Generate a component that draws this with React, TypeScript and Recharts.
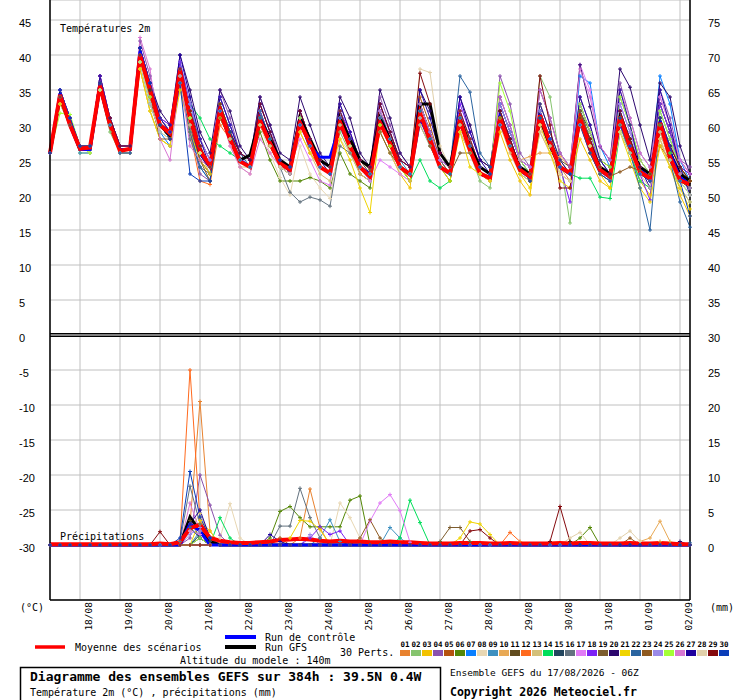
import React from 'react';
import { LineChart, Line, XAxis, YAxis, CartesianGrid, ReferenceLine } from 'recharts';

// ---------- colours of the 30 perturbations ----------
const COLORS = [
  '#E8822F', '#86C46E', '#F2C200', '#8B52AE', '#B5520F', '#548707', '#0A80FF', '#E8D7B3', '#3E90C0', '#E8A955',
  '#614C1E', '#FF6A1E', '#D4C07A', '#00DE5A', '#22465E', '#63727F', '#E17BF6', '#7C21F5', '#7D5D2E', '#2C066E',
  '#F0D400', '#2A64A0', '#8F5A20', '#9B8AE8', '#A4FF37', '#D877D3', '#1F009E', '#E1D0AA', '#84090D', '#0A3DB8',
];
const MEMBER_LABELS = ['01','02','03','04','05','06','07','08','09','10','11','12','13','14','15','16','17','18','19','20','21','22','23','24','25','26','27','28','29','30'];

// ---------- axis ticks / labels ----------
const DAY_TICKS = [3, 7, 11, 15, 19, 23, 27, 31, 35, 39, 43, 47, 51, 55, 59, 63];
const DAY_LABELS = ['18/08','19/08','20/08','21/08','22/08','23/08','24/08','25/08','26/08','27/08','28/08','29/08','30/08','31/08','01/09','02/09'];
const TEMP_TICKS = [45, 40, 35, 30, 25, 20, 15, 10, 5, 0, -5, -10, -15, -20, -25, -30];
const MM_TICKS = [75, 70, 65, 60, 55, 50, 45, 40, 35, 30, 25, 20, 15, 10, 5, 0];

// ---------- temperatures 2m (°C), every 6h from 17/08 06Z ----------
const T01 = [26, 34,30,27,27, 35,30,26,26, 40,35,30,29, 37,30,25,23, 31,28,25,24, 30,27,24,23, 30,27,24,23, 31,28,24,23, 30,27,24,23, 32,28,24,23, 31,27,23,22, 30,27,24,23, 32,28,24,22, 31,27,23,22, 32,28,24,22, 33,29,25,23];
const T02 = [26, 33,30,26,26, 35,29,26,26, 39,33,29,28, 36,30,26,24, 33,29,25,24, 31,27,24,23, 30,28,24,23, 29,26,23,22, 30,27,24,22, 32,28,24,23, 30,26,22,21, 32,28,24,22, 37,34,25,16, 31,26,23,22, 30,26,22,21, 29,25,21,19];
const T03 = [26, 34,31,27,27, 36,30,27,27, 38,32,28,27, 38,32,27,24, 33,28,25,24, 32,28,25,24, 31,28,25,24, 30,27,24,23, 29,26,23,21, 33,29,25,23, 30,26,23,22, 29,25,22,20, 30,27,23,22, 28,25,22,21, 30,26,22,20, 28,24,20,17];
const T04 = [26, 35,31,27,27, 37,31,27,27, 42,37,31,30, 39,30,23,22, 35,31,26,25, 34,30,25,24, 32,28,24,23, 33,29,25,24, 34,30,26,24, 33,29,25,24, 32,28,24,23, 37,33,26,24, 32,28,24,23, 34,30,25,24, 36,31,26,24, 35,31,25,24];
const T05 = [26, 34,30,27,27, 36,30,26,26, 41,35,30,29, 38,31,27,24, 32,28,25,24, 31,27,24,23, 32,28,24,23, 30,27,23,22, 31,28,24,23, 34,30,25,23, 29,26,23,22, 31,27,24,22, 32,28,24,23, 30,26,23,22, 31,27,23,22, 27,25,23,22];
const T06 = [26, 34,30,27,27, 35,30,26,26, 40,34,30,28, 37,31,26,24, 32,28,25,24, 29,25,22,22, 22,22.5,22,21, 26,23,22,21, 30,27,24,22, 31,28,24,22, 30,27,23,22, 31,27,23,22, 31,27,24,23, 32,28,24,23, 31,27,23,22, 30,26,22,21];
const T07 = [26, 35,31,27,27, 36,31,27,27, 39,33,29,27, 36,29,24,22, 33,29,25,24, 32,28,24,23, 31,27,24,23, 32,28,24,22, 31,28,24,23, 32,28,24,23, 30,27,23,22, 32,28,24,23, 31,28,24,23, 37,36,27,24, 32,28,24,23, 37,33,25,22];
const T08 = [26, 34,30,27,26, 35,30,26,26, 39,34,30,28, 36,30,26,24, 32,27,24,23, 30,26,22.5,20, 27,23,21,19.5, 28,26,24,23, 30,27,24,23, 31,28,24,23, 29,26,23,22, 30,27,23,22, 29,26,23,22, 30,27,24,22, 29,26,23,21, 28,25,22,20];
const T09 = [26, 34,30,26,26, 36,30,26,26, 40,36,31,29, 39,33,27,24, 34,30,26,25, 32,28,25,24, 30,27,24,23, 31,27,24,23, 31,28,25,23, 30,27,24,23, 31,28,24,23, 31,27,24,23, 31,28,24,23, 32,28,24,23, 33,29,25,23, 32,28,24,22];
const T10 = [26, 34,30,27,27, 35,30,26,26, 39,34,30,29, 37,31,26,23, 31,28,25,24, 30,27,24,23, 30,27,24,23, 31,27,24,23, 30,27,24,23, 31,28,24,23, 30,27,24,23, 31,27,25,25.5, 26,26,25.5,24, 30,27,24,23, 30,27,24,23, 31,27,24,22];
const T11 = [26, 34,30,27,27, 36,31,27,27, 41,36,31,29, 38,32,28,25, 33,29,26,25, 31,28,25,24, 31,28,25,24, 31,28,25,23, 32,29,25,24, 33,29,25,24, 31,28,24,23, 32,28,24,23, 31,28,25,24, 32,29,25,24, 31,28,24,23, 30,27,24,23];
const T12 = [26, 34,30,27,27, 35,30,26,26, 40,35,30,28, 36,29,22,21.5, 30,28,25,24, 31,27,24,23, 31,26,24,23, 30,27,24,23, 31,28,24,23, 32,28,24,23, 30,27,23,22, 32,28,24,22, 30,27,24,23, 31,28,24,23, 31,27,24,23, 30,26,23,22];
const T13 = [26, 33,30,27,26, 35,30,26,26, 38,32,28,27, 36,31,26,24, 31,28,24,24, 30,27,24,23, 29,26,23,22, 30,26,23,22, 29,26,23,22, 30,27,24,23, 29,26,23,22, 30,26,23,22, 29,26,23,22, 30,27,23,22, 29,26,22,21, 28,24,21,19];
const T14 = [26, 34,30,27,27, 35,30,26,26, 39,35,31,29, 37,33,31,28, 27,26,25,24, 31,27,24,23, 30,27,24,23, 30,27,24,23, 30,27,24,22, 25,22,21,22, 30,27,24,23, 31,27,24,23, 31,27,24,23, 22.4,22.4,19.7,19.5, 29,26,22,21, 30,26,22,20];
const T15 = [26, 35,31,27,27, 36,31,27,27, 40,35,30,28, 37,30,25,23, 33,29,25,24, 32,28,24,23, 31,27,24,23, 31,28,24,23, 32,28,24,23, 33,29,25,24, 31,27,24,23, 33,29,25,23, 32,28,24,23, 33,29,25,23, 32,28,24,23, 33,29,24,22];
const T16 = [26, 34,30,27,27, 36,30,26,26, 40,35,30,28, 38,28,24,23, 32,28,25,24, 31,27,24,20.4, 19,19.7,19.3,18.4, 27,26,24,23, 31,28,24,23, 32,28,25,23, 31,27,24,23, 32,28,24,23, 30,27,24,23, 33,29,25,23, 34,30,25,23, 33,29,24,21];
const T17 = [26, 35,31,27,27, 36,31,27,27, 41,36,31,29, 38,32,27,24, 33,29,26,25, 32,28,25,24, 28,25,22,21.4, 31,28,24,22, 25,24,23,22, 32,28,24,23, 31,28,24,23, 33,29,25,23, 33,29,25,23, 38.6,35,27,25, 33,29,25,23, 34,30,25,23];
const T18 = [26, 35,31,27,27, 37,31,27,27, 41,36,31,30, 39,33,28,25, 34,30,26,25, 33,29,25,24, 32,28,25,24, 32,29,25,24, 33,29,25,24, 32,29,25,24, 33,29,25,24, 33,29,25,24, 32,28,24,19, 33,29,24,23, 32,27,23,19.3, 33,29,24,23];
const T19 = [26, 34,30,27,27, 36,30,26,26, 40,35,31,29, 38,32,27,24, 32,29,26,25, 31,28,25,24, 30,27,24,23, 30,27,25,23.6, 29,26,24,23, 31,27,24,23, 26,26,25,24, 31,28,24,22, 30,27,24,23, 31,27,24,23, 31,28,24,23, 30,27,24,22];
const T20 = [26, 35,31,27,27, 37,31,27,27, 41,36,32,30, 40,35,29,26, 35,32,27,25, 34,30,26,25, 34,30,26,24, 34,31,26,24, 35,31,26,24, 35,32,26,24, 34,30,25,24, 34,30,25,24, 35,31,26,24, 38.6,32.6,26.9,25, 38,35.4,30,25, 36,34,27,23];
const T21 = [26, 33,31,27,27, 35,30,26,26, 38,32,28,27, 35,29,25,23, 31,28,25,24, 30,27,24,23, 29,26,24,23, 28,25,21,17.5, 30,27,24,22, 31,28,24,22, 29,24,23,22, 31,27,23,21, 30,26,22,21, 31,27,23,21, 29,25,21,19, 27,24,21,18];
const T22 = [26, 34,30,27,27, 36,31,27,27, 40,35,30,28, 36,29,24,22, 33,29,26,24, 32,28,25,24, 31,28,25,24, 32,28,24,23, 32,28,24,23, 33,29,25,24, 37,34.7,26,24, 33,29,25,23, 32,28,24,23, 32,28,24,22, 30,26,21,15, 31,25,19,15.4];
const T23 = [26, 34,30,27,27, 35,30,26,26, 39,34,28,28, 36,30,25,22, 31,28,25,24, 30,27,24,23, 30,27,24,23, 30,27,24,23, 31,28,24,23, 32,28,24,23, 30,27,24,23, 31,28,24,23, 31,27,24,23, 32,28,24,22.7, 23.3,24,23.5,22, 29,25,22,21];
const T24 = [26, 35,31,27,27, 36,31,27,27, 40,36,31,29, 38,33,28,25, 34,30,26,25, 33,29,25,24, 31,28,25,24, 32,28,25,24, 32,29,25,24, 31,28,25,24, 32,28,24,23, 33,29,25,24, 32,28,24,23, 33,29,25,23, 33,29,24,22, 32,28,23,21];
const T25 = [26, 31.7,31.5,27,26, 35,30,26,26, 39,34,30,28, 37,31,26,24, 33,29,25,24, 31,28,24,23, 31,27,24,23, 31,27,24,23, 31,28,24,23, 32,28,24,23, 31,28,24,23, 36,32,25,23, 33,29,25,23, 33,29,25,24, 34,30,25,23, 32,28,24,22];
const T26 = [26, 35,31,27,27, 37,31,27,27, 42.5,38,28,25, 37,27,25,24, 32,27,24,23, 28,26,24,23, 30,27,24,23, 31,28,25,24, 32,29,25,24, 33,29,25,24, 32,28,24,23, 34,30,25,24, 35,31,26,24, 38,34,27,25, 35,31,26,24, 34,30,25,23];
const T27 = [26, 35,31,27,27, 37,31,27,27, 41,36,31,29, 40,34,28,24, 34,30,26,25, 33,29,25,23, 32,28,25,23, 33,29,25,24, 33,29,25,24, 35,31,26,24, 34,29,25,23, 32,28,24,23, 33,29,25,23, 34,30,25,23, 35,30,24,21, 35,30,24,20];
const T28 = [26, 34,30,27,27, 35,30,26,26, 39,33,29,28, 36,30,26,24, 32,28,25,24, 30,27,24,23, 30,27,24,23, 30,27,24,23, 31,28,24,23, 38,37.5,27,24, 30,27,24,23, 30,27,24,23, 30,27,23,22, 30,27,24,22, 29,26,23,21, 29,25,22,20];
const T29 = [26, 34,30,27,27, 36,31,27,27, 40,35,30,28, 38,32,27,24, 33,29,26,25, 33,29,25,24, 32,28,25,24, 32,28,25,24, 33,29,25,24, 37.4,33,26,24, 32,28,24,23, 32,28,24,23, 37,30,21,21, 31,28,24,23, 32,28,24,23, 31,27,24,22];
const T30 = [26, 35,31,27,27, 36,30,26,26, 41,36,30,28, 36,23,22,22, 32,29,25,24, 31,28,25,24, 30,27,24,23, 31,28,24,23, 31,28,24,23, 32,28,24,23, 31,27,24,23, 30,27,24,22, 31,28,24,23, 30,26,23,22, 31,27,23,22, 31,27,22,17];
const TCTRL = [26, 34.5,30,26.5,26.5, 35.5,30,26.5,26.5, 40.5,35,30,29, 38,31,26,24, 32,28,25,24, 31,27.5,24.5,23.5, 30.5,27,25.4,25.4, 30,27,24,23, 30.5,27.5,24,23, 31,28,24,23, 30.5,26.5,23,22.5, 31,27,23.5,22.5, 31.5,27.5,24,23, 31,27,23.5,22.5, 30.5,27,23.5,22.5, 30.5,26,22.5,21.5];
const TGFS = [26, 34,30,26.5,26.5, 35.5,30,26.5,26.5, 40,35,30,28.5, 38,31,26,24, 32,28,25,25.7, 31,28,25,24, 31,28,25,24, 31,28,25,24, 31,28,24,23, 33,33,26,24, 31,27,24,23, 31,27,24,23, 31,27,24,23, 31,27,24,23, 31,27,24,23, 30,26,23,22];
const TMEAN = [26, 34.3,30,26.6,26.8, 35.6,30,26.3,26.6, 40,35,30,28.8, 37.8,31,26.3,24.2, 32.1,28,24.8,24, 30.7,27.4,24.5,23.6, 30.3,27.4,24,23.1, 30.4,26.9,24,22.6, 30.3,27.4,24,22.9, 31.7,27.9,24,23.1, 30.7,26.4,23.1,22.4, 31,26.9,23.6,22.6, 31.4,27.4,24,23.1, 31,26.9,23.6,22.6, 31.2,26.9,23.3,22.4, 30.3,25.4,22.1,21.5];

// ---------- precipitation (mm / 6h) ----------
const PMEAN = [0.1,0.1,0.1,0.1,0.1,0.1,0.1,0.1,0.1,0.1,0.1,0.2,0.1, 0.4,2.4,2.9,1.0,0.6,0.4,0.3,0.3,0.4,0.5,0.7,0.8,0.9,0.8,0.6,0.5,0.6,0.5,0.5,0.4,0.4,0.5,0.4,0.4,0.3,0.2,0.2,0.2,0.3,0.3,0.3,0.2,0.2,0.3,0.2,0.2,0.2,0.2,0.3,0.2,0.3,0.3,0.2,0.2,0.2,0.3,0.2,0.2,0.3,0.2,0.1,0.1];
// rainy time steps of each member as [step, mm]; the others are dry
const P01 = [[14,3],[15,20.5],[16,2],[25,1],[26,8],[27,2.4],[61,0.5]];
const P02 = [[15,1.5],[16,0.5]];
const P03 = [[14,2],[15,3],[16,1]];
const P04 = [[14,1],[15,10],[16,5.7],[17,1.4]];
const P05 = [[14,2.5],[15,1],[23,1]];
const P06 = [[22,1],[23,4.8],[24,5.5],[25,3.9],[26,2.6],[27,2.6],[28,2.6],[29,2.6],[30,6.4],[31,7],[53,1],[54,2.5]];
const P07 = [[14,3],[15,2]];
const P08 = [[17,1],[18,5.9],[19,1],[29,6],[30,3.9],[31,1]];
const P09 = [[15,2],[27,1],[28,3.6],[29,0.5],[34,2.5],[35,1]];
const P10 = [[59,0.5],[60,1],[61,3.4],[62,0.5]];
const P11 = [[14,3.5],[15,1]];
const P12 = [[13,0.5],[14,25],[15,3.5],[16,1],[46,1.8],[47,0.5]];
const P13 = [[14,2],[15,4.5],[16,1]];
const P14 = [[17,3.9],[18,1],[35,1],[36,6.4],[37,3.2],[52,0.5]];
const P15 = [[15,1.5],[16,0.5]];
const P16 = [[13,0.5],[14,8.4],[15,3],[23,2.7],[24,2.7],[25,8.1],[26,3.9],[27,1]];
const P17 = [[14,2],[15,1.5],[32,3.4],[33,6],[34,7.2],[35,4.9],[36,0.4]];
const P18 = [[26,1],[27,2.6],[28,1.5],[29,2]];
const P19 = [[39,0.5],[40,2.5],[41,2.5],[42,0.5]];
const P20 = [[15,1],[63,0.5]];
const P21 = [[15,3.5],[16,2],[24,1],[25,3.5],[26,3.4],[27,2.2],[41,1],[42,3.3],[43,3],[44,1.5]];
const P22 = [[14,2.5],[15,1],[64,0.3]];
const P23 = [[31,1],[32,3.6],[33,1],[58,1]];
const P24 = [[14,1.5],[15,2.5],[16,1],[26,1.5]];
const P25 = [[15,1]];
const P26 = [[14,6],[15,2]];
const P27 = [[14,3],[15,5],[16,1],[22,1.5],[23,0.5]];
const P28 = [[52,1],[53,1.8],[57,1],[58,2],[59,0.5]];
const P29 = [[11,1.9],[42,2],[43,2.2],[44,1],[50,0.5],[51,5.5],[52,0.5]];
const P30 = [[13,1],[14,10.5],[15,4],[16,1]];
const PCTRL = [[14,3],[15,2]];
const PGFS = [[14,4],[15,2],[16,0.5]];

const TEMP_MEMBERS = [T01,T02,T03,T04,T05,T06,T07,T08,T09,T10,T11,T12,T13,T14,T15,T16,T17,T18,T19,T20,T21,T22,T23,T24,T25,T26,T27,T28,T29,T30];
const PRECIP_MEMBERS = [P01,P02,P03,P04,P05,P06,P07,P08,P09,P10,P11,P12,P13,P14,P15,P16,P17,P18,P19,P20,P21,P22,P23,P24,P25,P26,P27,P28,P29,P30];

// ---------- table for recharts ----------
const rows: any[] = TMEAN.map((m, i) => {
  const r: any = { i, tm: m, tc: TCTRL[i], tg: TGFS[i], pm: PMEAN[i], pc: 0, pg: 0 };
  TEMP_MEMBERS.forEach((arr, k) => { r['t' + k] = arr[i]; });
  PRECIP_MEMBERS.forEach((_, k) => { r['p' + k] = 0; });
  return r;
});
PRECIP_MEMBERS.forEach((list, k) => list.forEach(([s, v]) => { rows[s]['p' + k] = v; }));
PCTRL.forEach(([s, v]) => { rows[s].pc = v; });
PGFS.forEach(([s, v]) => { rows[s].pg = v; });

const MONO = "'DejaVu Sans Mono', monospace";
const SANS = "'Liberation Sans', Arial, sans-serif";

const crossDot = (color: string) => (props: any) => {
  const { cx, cy, index } = props;
  if (cx == null || cy == null || isNaN(cx) || isNaN(cy)) return <g key={'e' + index} />;
  return (
    <path key={'c' + index} d={`M${cx - 2},${cy}H${cx + 2}M${cx},${cy - 2}V${cy + 2}`} stroke={color} strokeWidth={1} fill="none" />
  );
};

const XTick = (props: any) => {
  const { x, payload } = props;
  const k = DAY_TICKS.indexOf(payload.value);
  const bx = x + 11.5;
  const by = 602;
  return (
    <text x={bx} y={by} transform={`rotate(-90 ${bx} ${by})`} textAnchor="end" fontFamily={MONO} fontSize={9.5} fill="#000">
      {DAY_LABELS[k]}
    </text>
  );
};

const LeftTick = (props: any) => (
  <text x={19} y={props.y + 7} fontFamily={SANS} fontSize={11} fill="#000">{props.payload.value}</text>
);
const RightTick = (props: any) => (
  <text x={708} y={props.y + 7} fontFamily={SANS} fontSize={11} fill="#000">{props.payload.value}</text>
);

export default function App() {
  return (
    <div style={{ position: 'absolute', left: 0, top: 0, width: 740, height: 700, background: '#fff' }}>
      <LineChart width={740} height={700} data={rows} margin={{ top: 0, right: 0, bottom: 0, left: 0 }}>
        <CartesianGrid yAxisId="left" stroke="#C0C0C0" strokeWidth={1} />
        <XAxis
          type="number"
          dataKey="i"
          domain={[0, 64]}
          ticks={DAY_TICKS}
          interval={0}
          height={100}
          tickLine={false}
          axisLine={{ stroke: '#000', strokeWidth: 1.5 }}
          tick={<XTick />}
        />
        <YAxis
          yAxisId="left"
          type="number"
          domain={[-265 / 7, 335 / 7]}
          ticks={TEMP_TICKS}
          interval={0}
          width={50}
          tickLine={false}
          axisLine={{ stroke: '#000', strokeWidth: 1.5 }}
          tick={<LeftTick />}
        />
        <YAxis
          yAxisId="mm"
          orientation="right"
          type="number"
          domain={[-55 / 7, 545 / 7]}
          ticks={MM_TICKS}
          interval={0}
          width={50}
          tickLine={false}
          axisLine={{ stroke: '#000', strokeWidth: 1.5 }}
          tick={<RightTick />}
        />
        <ReferenceLine yAxisId="left" y={0} stroke="#000" strokeWidth={4} />
        <ReferenceLine yAxisId="left" y={0} stroke="#fff" strokeWidth={1.2} />

        {PRECIP_MEMBERS.map((_, k) => (
          <Line key={'p' + k} yAxisId="mm" type="linear" dataKey={'p' + k} stroke={COLORS[k]} strokeWidth={1}
            dot={crossDot(COLORS[k])} activeDot={false} isAnimationActive={false} />
        ))}
        {TEMP_MEMBERS.map((_, k) => (
          <Line key={'t' + k} yAxisId="left" type="linear" dataKey={'t' + k} stroke={COLORS[k]} strokeWidth={1}
            dot={crossDot(COLORS[k])} activeDot={false} isAnimationActive={false} />
        ))}
        <Line yAxisId="mm" type="linear" dataKey="pg" stroke="#000" strokeWidth={3} dot={false} activeDot={false} isAnimationActive={false} />
        <Line yAxisId="left" type="linear" dataKey="tg" stroke="#000" strokeWidth={3} dot={false} activeDot={false} isAnimationActive={false} />
        <Line yAxisId="mm" type="linear" dataKey="pc" stroke="#0000FF" strokeWidth={3} dot={false} activeDot={false} isAnimationActive={false} />
        <Line yAxisId="left" type="linear" dataKey="tc" stroke="#0000FF" strokeWidth={3} dot={false} activeDot={false} isAnimationActive={false} />
        <Line yAxisId="mm" type="linear" dataKey="pm" stroke="#FF0000" strokeWidth={4} dot={false} activeDot={false} isAnimationActive={false} />
        <Line yAxisId="left" type="linear" dataKey="tm" stroke="#FF0000" strokeWidth={4} dot={false} activeDot={false} isAnimationActive={false} />
      </LineChart>

      <svg width={740} height={700} style={{ position: 'absolute', left: 0, top: 0, pointerEvents: 'none' }}>
        <text x={60} y={32} fontFamily={MONO} fontSize={10} fill="#000">Températures 2m</text>
        <text x={60} y={540} fontFamily={MONO} fontSize={10} fill="#000">Précipitations</text>
        <text x={20} y={611} fontFamily={MONO} fontSize={10} fill="#000">(°C)</text>
        <text x={710} y={611} fontFamily={MONO} fontSize={10} fill="#000">(mm)</text>

        <line x1={35} x2={65} y1={647} y2={647} stroke="#FF0000" strokeWidth={3.5} />
        <text x={75} y={651} fontFamily={MONO} fontSize={10} fill="#000">Moyenne des scénarios</text>
        <line x1={225} x2={256} y1={637} y2={637} stroke="#0000FF" strokeWidth={4} />
        <text x={265} y={641} fontFamily={MONO} fontSize={10} fill="#000">Run de contrôle</text>
        <line x1={225} x2={256} y1={647} y2={647} stroke="#000" strokeWidth={4} />
        <text x={265} y={651} fontFamily={MONO} fontSize={10} fill="#000">Run GFS</text>
        <text x={340} y={656} fontFamily={MONO} fontSize={10} fill="#000">30 Perts.</text>
        <text x={180} y={664} fontFamily={MONO} fontSize={10} fill="#000">Altitude du modele : 140m</text>

        {COLORS.map((c, k) => (
          <g key={'lg' + k}>
            <text x={405 + 11 * k} y={647} textAnchor="middle" fontFamily={MONO} fontSize={7.5} fontWeight="bold" fill="#000">{MEMBER_LABELS[k]}</text>
            <rect x={400 + 11 * k} y={650} width={10} height={6} fill={c} />
          </g>
        ))}

        <rect x={20.5} y={667.5} width={420} height={40} fill="none" stroke="#000" strokeWidth={1.5} />
        <text x={30} y={681} fontFamily={MONO} fontSize={13} fontWeight="bold" fill="#000">Diagramme des ensembles GEFS sur 384h : 39.5N 0.4W</text>
        <text x={30} y={696} fontFamily={MONO} fontSize={10} fill="#000">Température 2m (°C) , précipitations (mm)</text>
        <text x={450} y={676} fontFamily={MONO} fontSize={9.5} fill="#000">Ensemble GEFS du 17/08/2026 - 06Z</text>
        <text x={450} y={696} fontFamily={MONO} fontSize={11.5} fontWeight="bold" fill="#000">Copyright 2026 Meteociel.fr</text>
      </svg>
    </div>
  );
}
